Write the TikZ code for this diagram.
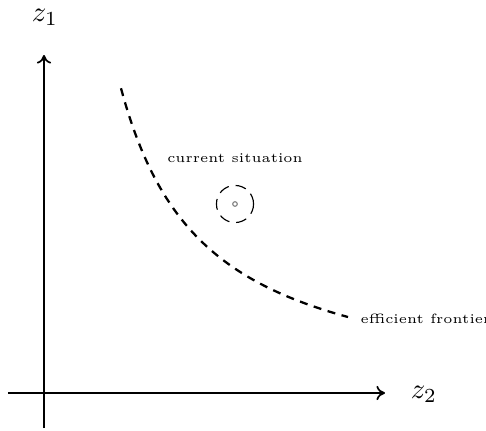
\documentclass[tikz,border=0pt]{standalone}
\usetikzlibrary{arrows.meta}
\begin{document}
\begin{tikzpicture}[x=0.35pt,y=-0.35pt,
  axis/.style={semithick,-{To[length=3pt,width=5pt]}},
  frontier/.style={thick,dash pattern=on 2.8pt off 2.3pt},
  lbl/.style={font=\fontsize{4.7pt}{5pt}\selectfont,inner sep=0pt}]
\useasboundingbox (0,0) rectangle (486,431);
\coordinate (xs) at (8,393);
\coordinate (xe) at (385,393);
\coordinate (ys) at (44,428);
\coordinate (ye) at (44,55);
\draw[axis] (xs) -- (xe);
\draw[axis] (ys) -- (ye);
\node[inner sep=0pt] (z1) at (45,17) {$z_1$};
\node[inner sep=0pt] (z2) at (424,394) {$z_2$};
\draw[frontier] plot[domain=121:348,samples=80,smooth] (\x,{402-264.6*(100/(\x-36.66))});
\node[lbl,anchor=west] (ef) at (360,319) {efficient frontier};
\node[lbl] (cs) at (235,158) {current situation};
\node[draw,circle,inner sep=0pt,minimum size=13pt,dash pattern=on 3.8pt off 2.4pt] (cur) at (235,204) {};
\node[draw=gray,circle,inner sep=0pt,minimum size=1.6pt] (dot) at (cur.center) {};
\end{tikzpicture}
\end{document}
